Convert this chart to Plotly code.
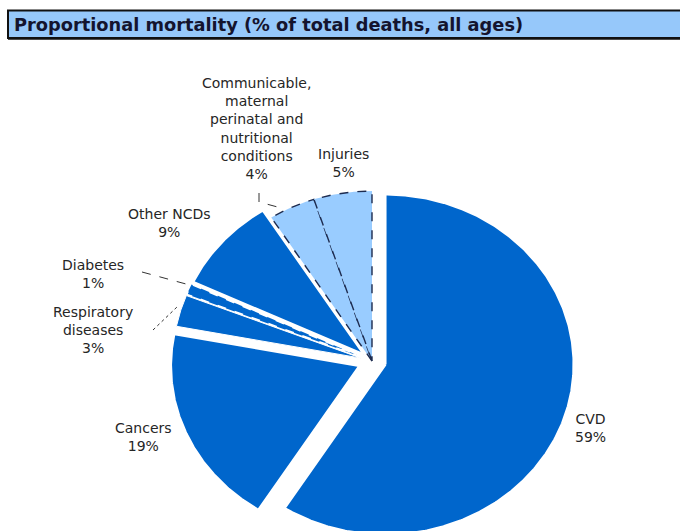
import numpy as np
import plotly.graph_objects as go

# ---- data -------------------------------------------------------------
categories = [
    "CVD",
    "Cancers",
    "Respiratory diseases",
    "Diabetes",
    "Other NCDs",
    "Communicable, maternal, perinatal and nutritional conditions",
    "Injuries",
]
# label text as it is broken over lines next to each slice
display_names = [
    "CVD",
    "Cancers",
    "Respiratory<br>diseases",
    "Diabetes",
    "Other NCDs",
    "Communicable,<br>maternal<br>perinatal and<br>nutritional<br>conditions",
    "Injuries",
]
shares = [59, 19, 3, 1, 9, 4, 5]  # % of total deaths

title_text = "Proportional mortality (% of total deaths, all ages)"

# ---- styling / layout constants ----------------------------------------
W, H = 680, 531
CX, CY = 372, 361          # pie centre (pixel-like axis units)
RX, RY = 188, 170          # horizontal / vertical radius
DARK, LIGHT = "#0066CC", "#99CCFF"
slice_fill = [DARK, DARK, DARK, DARK, DARK, LIGHT, LIGHT]
slice_pull = [0.075, 0.075, 0.06, 0.06, 0.06, 0.0, 0.0]
slice_line = [
    dict(color="white", width=2),
    dict(color="white", width=2),
    dict(color="white", width=1),
    dict(color="white", width=1.5, dash="dash"),
    dict(color="white", width=2),
    dict(color="#1d2b4f", width=1.4, dash="dash"),
    dict(color="#1d2b4f", width=1.4, dash="dash"),
]
draw_order = [0, 1, 2, 3, 4, 5, 6]
label_pos = [(590, 427.5), (143, 436.5), (93, 330), (93, 273.5),
             (169, 222.5), (256, 128.5), (343, 163)]
FONT = "DejaVu Sans"
TXT = "#262626"

# ---- wedges -------------------------------------------------------------
total = float(sum(shares))
bounds = np.concatenate([[0.0], np.cumsum(shares)]) / total * 360.0

fig = go.Figure()
for i in draw_order:
    a0, a1 = bounds[i], bounds[i + 1]
    mid = np.radians((a0 + a1) / 2)
    ox = slice_pull[i] * RX * np.sin(mid)
    oy = -slice_pull[i] * RY * np.cos(mid)
    t = np.radians(np.linspace(a0, a1, max(int(a1 - a0), 2) * 2 + 1))
    xs = np.concatenate([[CX], CX + RX * np.sin(t), [CX]]) + ox
    ys = np.concatenate([[CY], CY - RY * np.cos(t), [CY]]) + oy
    fig.add_trace(go.Scatter(
        x=xs, y=ys, mode="lines", fill="toself",
        fillcolor=slice_fill[i], line=slice_line[i],
        name=categories[i], hoveron="fills",
        hovertemplate=f"{categories[i]}: {shares[i]}%<extra></extra>",
        showlegend=False,
    ))

# ---- labels -----------------------------------------------------------
for (lx, ly), name, s in zip(label_pos, display_names, shares):
    fig.add_annotation(
        x=lx, y=ly, xref="x", yref="y", text=f"{name}<br>{s}%",
        showarrow=False, align="center", xanchor="center", yanchor="middle",
        font=dict(family=FONT, size=14, color=TXT),
    )

# leader lines
leader = dict(color="#333333", width=1, dash="dash")
fig.add_shape(type="path", path="M259,193 L259,202 L285,209",
              xref="x", yref="y", line=leader)
fig.add_shape(type="line", x0=142, y0=272, x1=186, y1=284,
              xref="x", yref="y", line=leader)
fig.add_shape(type="line", x0=153, y0=330, x1=177, y1=307,
              xref="x", yref="y", line=dict(color="#333333", width=1, dash="dot"))

# ---- title bar ---------------------------------------------------------
fig.add_shape(type="rect", x0=8, x1=W + 6, y0=10.5, y1=38,
              xref="x", yref="y", fillcolor="#96C8FA",
              line=dict(color="#111111", width=2), layer="below")
fig.add_shape(type="line", x0=8, x1=W + 6, y0=38.5, y1=38.5,
              xref="x", yref="y", line=dict(color="#111111", width=2.5))
fig.add_annotation(
    x=12, y=24.5, xref="x", yref="y", text=f"<b>{title_text}</b>",
    showarrow=False, xanchor="left", yanchor="middle",
    font=dict(family=FONT, size=17.8, color="#14142e"),
)

fig.update_layout(
    width=W, height=H,
    margin=dict(l=0, r=0, t=0, b=0),
    paper_bgcolor="white", plot_bgcolor="white",
    xaxis=dict(range=[0, W], visible=False, fixedrange=True),
    yaxis=dict(range=[H, 0], visible=False, fixedrange=True),
    hovermode="closest",
)

fig.write_html("out.html")
